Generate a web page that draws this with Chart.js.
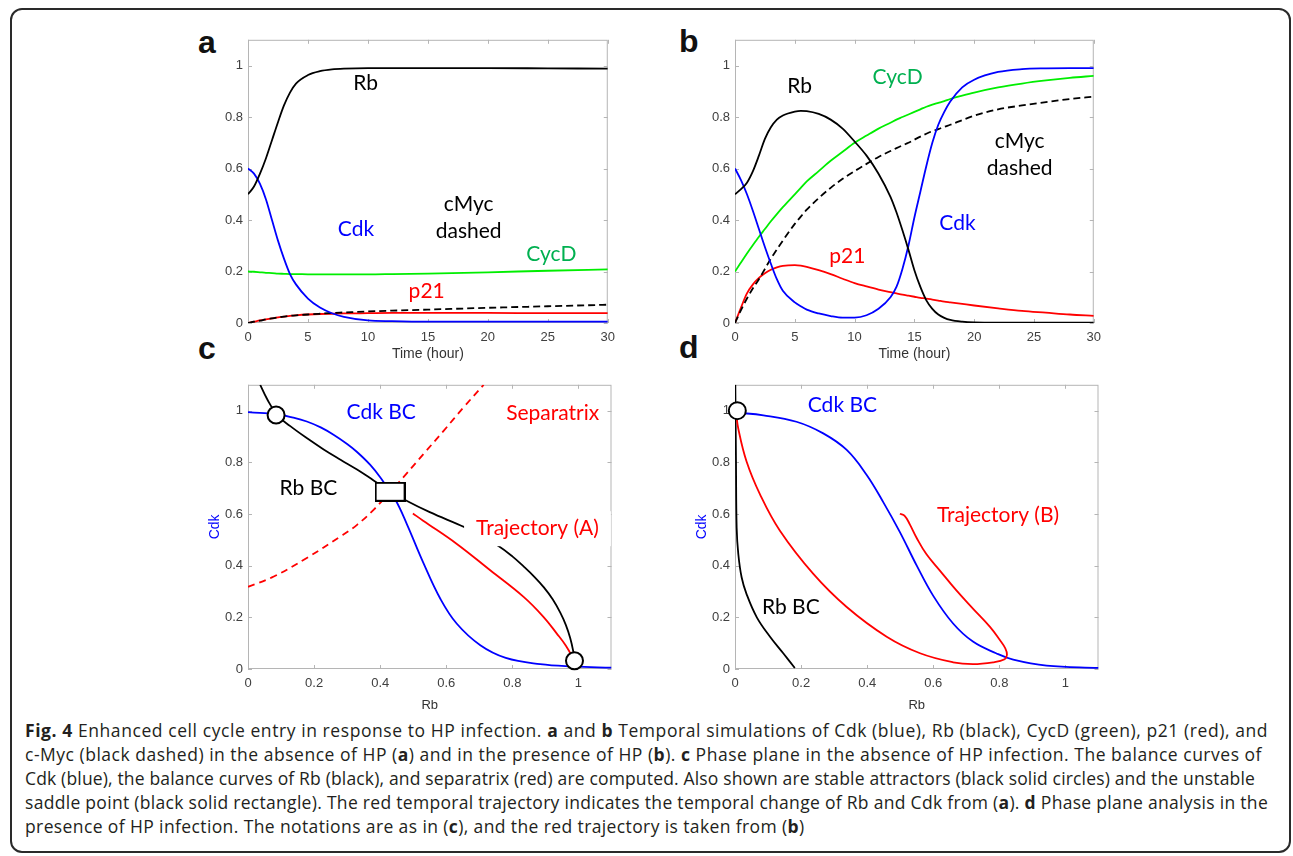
<!DOCTYPE html>
<html><head><meta charset="utf-8">
<script src="https://cdn.jsdelivr.net/npm/chart.js@4/dist/chart.umd.min.js"></script>
<style>
html,body{margin:0;padding:0;background:#fff;}
body{width:1293px;height:856px;overflow:hidden;position:relative;}
.frame{position:absolute;left:10px;top:8px;width:1281px;height:845px;border:2px solid #2a2a2a;border-radius:12px;box-sizing:border-box;}
.cv{position:absolute;}
.letter{position:absolute;font:bold 32px "Liberation Sans",Arial,sans-serif;color:#111;line-height:32px;}
.caption{position:absolute;left:25px;top:718px;font-family:"Open Sans",sans-serif;font-size:17.5px;color:#231f20;line-height:24px;white-space:nowrap;}
.caption .ln{display:block;width:max-content;}
.caption b{font-weight:700;}
</style></head>
<body>
<div class="frame"></div>
<div class="letter" style="left:198px;top:26px">a</div>
<div class="letter" style="left:679px;top:25px">b</div>
<div class="letter" style="left:198px;top:332px">c</div>
<div class="letter" style="left:679px;top:331px">d</div>
<canvas id="ca" class="cv" width="424" height="341" style="left:198px;top:27px"></canvas>
<canvas id="cb" class="cv" width="423" height="341" style="left:685px;top:27px"></canvas>
<canvas id="cc" class="cv" width="424" height="342" style="left:198px;top:372px"></canvas>
<canvas id="cd" class="cv" width="424" height="342" style="left:685px;top:372px"></canvas>
<div class="caption">
<span class="ln"><b>Fig. 4</b> Enhanced cell cycle entry in response to HP infection. <b>a</b> and <b>b</b> Temporal simulations of Cdk (blue), Rb (black), CycD (green), p21 (red), and</span>
<span class="ln">c-Myc (black dashed) in the absence of HP (<b>a</b>) and in the presence of HP (<b>b</b>). <b>c</b> Phase plane in the absence of HP infection. The balance curves of</span>
<span class="ln">Cdk (blue), the balance curves of Rb (black), and separatrix (red) are computed. Also shown are stable attractors (black solid circles) and the unstable</span>
<span class="ln">saddle point (black solid rectangle). The red temporal trajectory indicates the temporal change of Rb and Cdk from (<b>a</b>). <b>d</b> Phase plane analysis in the</span>
<span class="ln">presence of HP infection. The notations are as in (<b>c</b>), and the red trajectory is taken from (<b>b</b>)</span>
</div>
<script>
// ---------- Tick values / labels ----------
const timeTicks = [0, 5, 10, 15, 20, 25, 30];
const timeTickLabels = ['0', '5', '10', '15', '20', '25', '30'];
const unitTicks = [0, 0.2, 0.4, 0.6, 0.8, 1];
const unitTickLabels = ['0', '0.2', '0.4', '0.6', '0.8', '1'];

// ---------- Panel a (no HP) ----------
const tA    = [0, 0.5, 1, 1.5, 2, 2.5, 3, 3.5, 4, 5, 6, 7, 8, 10, 12, 15, 20, 25, 30];
const rbA   = [0.50, 0.53, 0.58, 0.64, 0.71, 0.78, 0.845, 0.895, 0.93, 0.963, 0.978, 0.985, 0.988, 0.99, 0.99, 0.99, 0.99, 0.989, 0.988];
const cdkA  = [0.60, 0.58, 0.54, 0.48, 0.40, 0.32, 0.25, 0.19, 0.15, 0.095, 0.06, 0.038, 0.024, 0.01, 0.007, 0.005, 0.005, 0.005, 0.005];
const cycdA = [0.20, 0.199, 0.197, 0.195, 0.194, 0.192, 0.191, 0.19, 0.19, 0.189, 0.189, 0.189, 0.189, 0.189, 0.19, 0.192, 0.197, 0.203, 0.208];
const p21A  = [0, 0.005, 0.01, 0.014, 0.018, 0.022, 0.025, 0.028, 0.03, 0.033, 0.035, 0.036, 0.037, 0.038, 0.039, 0.039, 0.039, 0.038, 0.038];
const mycA  = [0, 0.005, 0.009, 0.014, 0.018, 0.022, 0.025, 0.028, 0.03, 0.033, 0.036, 0.039, 0.041, 0.045, 0.048, 0.052, 0.059, 0.065, 0.071];

// ---------- Panel b (with HP) ----------
const tB    = [0, 0.5, 1, 1.5, 2, 2.5, 3, 3.5, 4, 5, 5.5, 6, 7, 8, 9, 10, 11, 12, 13, 13.5, 14, 14.5, 15, 15.5, 16, 16.5, 17, 17.5, 18, 19, 20, 22, 24, 26, 28, 30];
const rbB   = [0.50, 0.52, 0.545, 0.59, 0.65, 0.715, 0.76, 0.79, 0.806, 0.821, 0.824, 0.823, 0.812, 0.79, 0.755, 0.705, 0.65, 0.58, 0.49, 0.43, 0.36, 0.285, 0.205, 0.14, 0.088, 0.055, 0.033, 0.02, 0.012, 0.005, 0.002, 0.001, 0.001, 0.001, 0.001, 0.001];
const cdkB  = [0.60, 0.555, 0.50, 0.435, 0.365, 0.295, 0.23, 0.17, 0.125, 0.08, 0.065, 0.052, 0.037, 0.027, 0.021, 0.021, 0.03, 0.055, 0.10, 0.14, 0.21, 0.30, 0.41, 0.51, 0.61, 0.70, 0.77, 0.82, 0.86, 0.915, 0.945, 0.975, 0.986, 0.989, 0.99, 0.99];
const cycdB = [0.20, 0.235, 0.27, 0.303, 0.335, 0.365, 0.395, 0.423, 0.45, 0.50, 0.525, 0.55, 0.59, 0.63, 0.665, 0.70, 0.728, 0.755, 0.778, 0.79, 0.80, 0.81, 0.82, 0.83, 0.84, 0.848, 0.855, 0.862, 0.87, 0.883, 0.895, 0.915, 0.93, 0.942, 0.952, 0.96];
const mycB  = [0, 0.05, 0.095, 0.135, 0.17, 0.21, 0.25, 0.285, 0.32, 0.385, 0.413, 0.44, 0.485, 0.525, 0.56, 0.59, 0.618, 0.645, 0.668, 0.679, 0.69, 0.70, 0.712, 0.724, 0.735, 0.745, 0.753, 0.762, 0.77, 0.788, 0.805, 0.83, 0.845, 0.858, 0.87, 0.879];
const p21B  = [0, 0.06, 0.115, 0.15, 0.175, 0.193, 0.207, 0.216, 0.222, 0.225, 0.223, 0.218, 0.205, 0.19, 0.172, 0.155, 0.142, 0.13, 0.12, 0.115, 0.11, 0.106, 0.102, 0.098, 0.095, 0.091, 0.087, 0.083, 0.08, 0.074, 0.068, 0.057, 0.047, 0.04, 0.033, 0.028];

// ---------- Panel c (phase plane, no HP) ----------
const cCdkBC_rb  = [0, 0.05, 0.088, 0.13, 0.178, 0.22, 0.26, 0.30, 0.33, 0.37, 0.40, 0.446, 0.481, 0.531, 0.582, 0.632, 0.703, 0.78, 0.884, 0.985, 1.1];
const cCdkBC_cdk = [0.994, 0.99, 0.986, 0.975, 0.958, 0.935, 0.906, 0.871, 0.84, 0.79, 0.742, 0.655, 0.56, 0.41, 0.272, 0.175, 0.092, 0.043, 0.019, 0.01, 0.005];
const cRbBC_rb   = [0.037, 0.057, 0.088, 0.128, 0.18, 0.229, 0.28, 0.33, 0.38, 0.43, 0.474, 0.55, 0.657, 0.70, 0.758, 0.80, 0.834, 0.868, 0.894, 0.922, 0.945, 0.962, 0.975, 0.984, 0.988];
const cRbBC_cdk  = [1.1, 1.047, 0.983, 0.94, 0.892, 0.85, 0.81, 0.772, 0.73, 0.688, 0.655, 0.607, 0.548, 0.518, 0.476, 0.436, 0.397, 0.355, 0.318, 0.27, 0.218, 0.17, 0.12, 0.07, 0.032];
const cSep_rb    = [0, 0.078, 0.178, 0.279, 0.33, 0.38, 0.43, 0.481, 0.531, 0.592, 0.652, 0.713];
const cSep_cdk   = [0.318, 0.358, 0.43, 0.512, 0.558, 0.616, 0.685, 0.758, 0.832, 0.922, 1.012, 1.1];
const cTraj_rb   = [0.499, 0.53, 0.632, 0.733, 0.834, 0.894, 0.934, 0.962, 0.988];
const cTraj_cdk  = [0.602, 0.574, 0.484, 0.382, 0.279, 0.202, 0.138, 0.09, 0.032];
const cAttract_rb  = [0.085, 0.988];
const cAttract_cdk = [0.983, 0.032];
const cSaddle_rb   = [0.43];
const cSaddle_cdk  = [0.686];

// ---------- Panel d (phase plane, with HP) ----------
const dCdkBC_rb  = [0.007, 0.086, 0.186, 0.267, 0.338, 0.398, 0.449, 0.499, 0.55, 0.60, 0.66, 0.72, 0.79, 0.842, 0.943, 1.1];
const dCdkBC_cdk = [0.992, 0.982, 0.957, 0.912, 0.848, 0.752, 0.645, 0.53, 0.4, 0.283, 0.176, 0.106, 0.061, 0.036, 0.013, 0.004];
const dRbBC_rb   = [0.001, 0.003, 0.005, 0.01, 0.02, 0.035, 0.066, 0.106, 0.146, 0.181];
const dRbBC_cdk  = [1.1, 0.803, 0.547, 0.445, 0.355, 0.29, 0.2, 0.125, 0.061, 0.004];
const dTraj_rb   = [0.499, 0.514, 0.529, 0.549, 0.579, 0.62, 0.67, 0.72, 0.771, 0.801, 0.818, 0.823, 0.816, 0.781, 0.72, 0.66, 0.56, 0.459, 0.338, 0.237, 0.136, 0.076, 0.035, 0.01, 0.003];
const dTraj_cdk  = [0.601, 0.592, 0.56, 0.509, 0.445, 0.381, 0.304, 0.234, 0.164, 0.113, 0.08, 0.055, 0.038, 0.026, 0.019, 0.026, 0.061, 0.125, 0.24, 0.368, 0.535, 0.675, 0.803, 0.93, 0.995];
const dAttract_rb  = [0.007];
const dAttract_cdk = [1.0];

// ---------- Caption line fitting (right edges of each caption line) ----------
const captionLineEnds = [1268, 1262, 1255, 1268];
function fitCaption() {
  const lines = [...document.querySelectorAll('.caption .ln')];
  const spacings = [];
  lines.forEach((el, i) => {
    el.style.letterSpacing = '0px';
    if (i < captionLineEnds.length) {
      const r = el.getBoundingClientRect();
      const ls = (captionLineEnds[i] - r.right) / el.textContent.length;
      spacings.push(ls);
      el.style.letterSpacing = ls + 'px';
    }
  });
  const avg = spacings.reduce((a, b) => a + b, 0) / spacings.length;
  lines.slice(captionLineEnds.length).forEach(el => { el.style.letterSpacing = avg + 'px'; });
}
fitCaption();
if (document.fonts && document.fonts.ready) document.fonts.ready.then(fitCaption);

// ---------- Styling ----------
const BLUE = '#0000ff', BLACK = '#000000', GREEN = '#00ee00', RED = '#ff0000', TEXTGREEN = '#00b050';
const AXIS_COLOR = '#b5b5b5', TICK_TEXT = '#404040';
const LABEL_FONT = '21px Lato, "Open Sans", sans-serif';

const pts = (xs, ys) => xs.map((x, i) => ({x, y: ys[i]}));
function line(data, color, extra) {
  return Object.assign({data, borderColor: color, backgroundColor: color, borderWidth: 1.8,
    pointRadius: 0, fill: false, tension: 0.4}, extra || {});
}
function marker(data, style) {
  return {data, showLine: false, pointRadius: 8.5, pointHoverRadius: 8.5, pointStyle: style || 'circle',
    pointBackgroundColor: '#fff', pointBorderColor: '#000', pointBorderWidth: 2, clip: false};
}

// saddle-point rectangle glyph
const rectGlyph = document.createElement('canvas');
rectGlyph.width = 31; rectGlyph.height = 20;
(() => { const g = rectGlyph.getContext('2d'); g.fillStyle = '#fff'; g.fillRect(1, 1, 29, 18);
  g.strokeStyle = '#000'; g.lineWidth = 2; g.strokeRect(1, 1, 29, 18); })();

const frameTicks = {
  id: 'frameTicks',
  beforeDatasetsDraw(chart) {
    const {ctx, chartArea: a, scales: {x, y}} = chart;
    ctx.save();
    ctx.strokeStyle = AXIS_COLOR; ctx.lineWidth = 1;
    ctx.strokeRect(a.left + 0.5, a.top + 0.5, a.right - a.left - 1, a.bottom - a.top - 1);
    const L = 4;
    ctx.beginPath();
    x.ticks.forEach(t => { const p = Math.round(x.getPixelForValue(t.value)) + 0.5;
      ctx.moveTo(p, a.bottom); ctx.lineTo(p, a.bottom - L); ctx.moveTo(p, a.top); ctx.lineTo(p, a.top + L); });
    y.ticks.forEach(t => { const p = Math.round(y.getPixelForValue(t.value)) + 0.5;
      ctx.moveTo(a.left, p); ctx.lineTo(a.left + L, p); ctx.moveTo(a.right, p); ctx.lineTo(a.right - L, p); });
    ctx.stroke();
    ctx.restore();
  }
};
const textLabels = {
  id: 'textLabels',
  afterDatasetsDraw(chart, args, opts) {
    const {ctx, scales: {x, y}} = chart;
    ctx.save();
    ctx.font = LABEL_FONT; ctx.textAlign = 'center'; ctx.textBaseline = 'middle';
    (opts.items || []).forEach(it => {
      const px = x.getPixelForValue(it.x), py = y.getPixelForValue(it.y);
      if (it.bg) {
        const w = ctx.measureText(it.text).width + 24;
        ctx.fillStyle = '#fff'; ctx.fillRect(px - w / 2, py - 17, w, 35);
      }
      ctx.fillStyle = it.color; ctx.fillText(it.text, px, py);
    });
    ctx.restore();
  }
};

function scaleX(min, max, ticks, labels, title, titleColor, titlePad, titleSize) {
  return {type: 'linear', position: 'bottom', min, max, grid: {display: false, drawTicks: false}, border: {display: false},
    afterFit: s => { s.height = 45; },
    afterBuildTicks: s => { s.ticks = ticks.map(v => ({value: v})); },
    ticks: {autoSkip: false, maxRotation: 0, padding: 7, color: TICK_TEXT,
      font: {family: '"Liberation Sans", Arial, sans-serif', size: 13}, callback: (v, i) => labels[i]},
    title: {display: true, text: title, color: titleColor, padding: {top: 0, bottom: titlePad},
      font: {family: '"Liberation Sans", Arial, sans-serif', size: titleSize}}};
}
function scaleY(ticks, labels, title) {
  const s = {type: 'linear', position: 'left', min: 0, max: 1.1, grid: {display: false, drawTicks: false}, border: {display: false},
    afterFit: sc => { sc.width = 50; },
    afterBuildTicks: sc => { sc.ticks = ticks.map(v => ({value: v})); },
    ticks: {autoSkip: false, padding: 5, color: TICK_TEXT,
      font: {family: '"Liberation Sans", Arial, sans-serif', size: 13}, callback: (v, i) => labels[i]}};
  if (title) s.title = {display: true, text: title, color: BLUE, padding: {top: 9, bottom: 0},
      font: {family: '"Liberation Sans", Arial, sans-serif', size: 14}};
  return s;
}
function make(id, datasets, xScale, yScale, items) {
  new Chart(document.getElementById(id), {
    type: 'line',
    data: {datasets},
    options: {responsive: false, animation: false, devicePixelRatio: 1,
      layout: {padding: {top: 10, right: 10, left: 0, bottom: 0}},
      scales: {x: xScale, y: yScale},
      plugins: {legend: {display: false}, tooltip: {enabled: false}, textLabels: {items}}},
    plugins: [frameTicks, textLabels]
  });
}
const mono = {cubicInterpolationMode: 'monotone'};
const dashed = {borderDash: [7, 4]};

// Panel a
make('ca', [
  line(pts(tA, rbA), BLACK, mono),
  line(pts(tA, cdkA), BLUE, mono),
  line(pts(tA, cycdA), GREEN, mono),
  line(pts(tA, mycA), BLACK, Object.assign({}, mono, dashed)),
  line(pts(tA, p21A), RED, mono)
], scaleX(0, 30, timeTicks, timeTickLabels, 'Time (hour)', '#333', 5, 14), scaleY(unitTicks, unitTickLabels), [
  {text: 'Rb', x: 9.8, y: 0.93, color: BLACK},
  {text: 'Cdk', x: 9.0, y: 0.366, color: BLUE},
  {text: 'cMyc', x: 18.4, y: 0.46, color: BLACK},
  {text: 'dashed', x: 18.4, y: 0.356, color: BLACK},
  {text: 'CycD', x: 25.3, y: 0.266, color: TEXTGREEN},
  {text: 'p21', x: 14.9, y: 0.122, color: RED}
]);

// Panel b
make('cb', [
  line(pts(tB, rbB), BLACK, mono),
  line(pts(tB, cdkB), BLUE, mono),
  line(pts(tB, cycdB), GREEN, mono),
  line(pts(tB, mycB), BLACK, Object.assign({}, mono, dashed)),
  line(pts(tB, p21B), RED, mono)
], scaleX(0, 30, timeTicks, timeTickLabels, 'Time (hour)', '#333', 5, 14), scaleY(unitTicks, unitTickLabels), [
  {text: 'Rb', x: 5.4, y: 0.918, color: BLACK},
  {text: 'CycD', x: 13.6, y: 0.956, color: TEXTGREEN},
  {text: 'cMyc', x: 23.8, y: 0.706, color: BLACK},
  {text: 'dashed', x: 23.8, y: 0.603, color: BLACK},
  {text: 'Cdk', x: 18.6, y: 0.389, color: BLUE},
  {text: 'p21', x: 9.4, y: 0.26, color: RED}
]);

// Panel c
make('cc', [
  marker(pts(cAttract_rb, cAttract_cdk), 'circle'),
  marker(pts(cSaddle_rb, cSaddle_cdk), rectGlyph),
  line(pts(cTraj_rb, cTraj_cdk), RED),
  line(pts(cRbBC_rb, cRbBC_cdk), BLACK),
  line(pts(cCdkBC_rb, cCdkBC_cdk), BLUE),
  line(pts(cSep_rb, cSep_cdk), RED, {borderDash: [7, 5]})
], scaleX(0, 1.1, unitTicks, unitTickLabels, 'Rb', '#333', 1, 13), scaleY(unitTicks, unitTickLabels, 'Cdk'), [
  {text: 'Cdk BC', x: 0.403, y: 0.994, color: BLUE},
  {text: 'Separatrix', x: 0.922, y: 0.99, color: RED},
  {text: 'Rb BC', x: 0.183, y: 0.699, color: BLACK},
  {text: 'Trajectory (A)', x: 0.876, y: 0.545, color: RED, bg: true}
]);

// Panel d
make('cd', [
  marker(pts(dAttract_rb, dAttract_cdk), 'circle'),
  line(pts(dTraj_rb, dTraj_cdk), RED),
  line(pts(dRbBC_rb, dRbBC_cdk), BLACK),
  line(pts(dCdkBC_rb, dCdkBC_cdk), BLUE)
], scaleX(0, 1.1, unitTicks, unitTickLabels, 'Rb', '#333', 1, 13), scaleY(unitTicks, unitTickLabels, 'Cdk'), [
  {text: 'Cdk BC', x: 0.325, y: 1.02, color: BLUE},
  {text: 'Trajectory (B)', x: 0.796, y: 0.596, color: RED},
  {text: 'Rb BC', x: 0.169, y: 0.238, color: BLACK}
]);
</script>
</body></html>
